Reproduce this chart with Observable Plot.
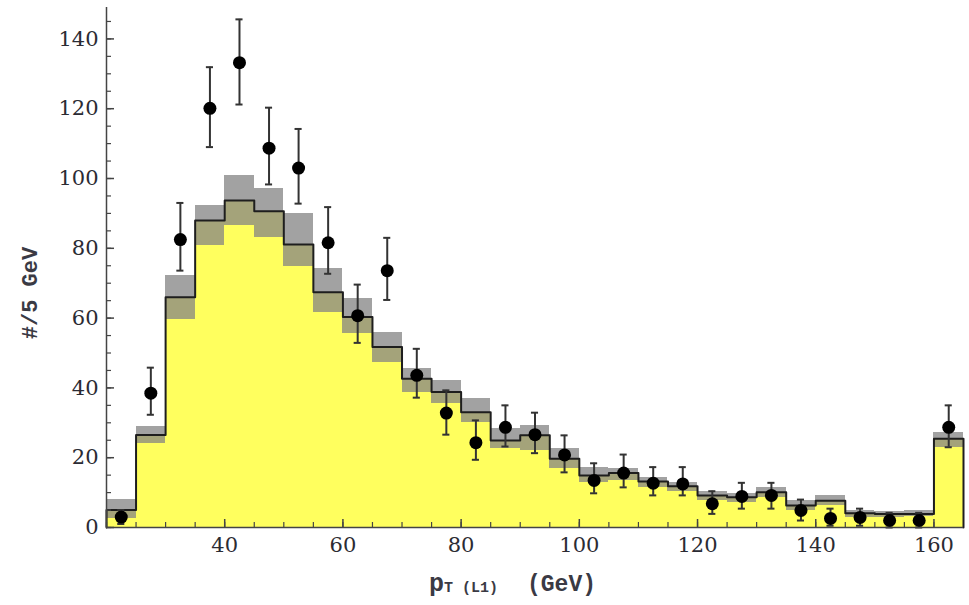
<!DOCTYPE html>
<html>
<head>
<meta charset="utf-8">
<script src="https://cdn.jsdelivr.net/npm/d3@7"></script>
<script src="https://cdn.jsdelivr.net/npm/@observablehq/plot@0.6"></script>
<style>
  html, body { margin: 0; padding: 0; background: #fff; }
  #chart svg { display: block; }
</style>
</head>
<body>
<div id="chart"></div>
<script>
// Bin starts (GeV), bin width 5
const binStart = [20,25,30,35,40,45,50,55,60,65,70,75,80,85,90,95,100,105,110,115,120,125,130,135,140,145,150,155,160];
const binWidth = 5;
// Prediction: central value, upper and lower uncertainty band
const central = [5, 26.5, 66, 88, 93.7, 90.6, 81.1, 67.4, 60.3, 51.7, 42.6, 38.8, 33, 24.9, 26.4, 19.7, 14.9, 15.6, 13.2, 11.8, 9.2, 8.7, 10.1, 6.3, 7.7, 4.1, 3.9, 3.9, 25.4];
const upper   = [8, 29, 72.2, 92.3, 100.9, 97, 89.9, 74.3, 65.5, 56, 45.5, 42.1, 36.9, 28.3, 29.2, 22.5, 17.3, 17, 14.4, 13, 10.4, 9.6, 11.4, 7.7, 9.2, 4.9, 4.6, 4.9, 27.3];
const lower   = [2.5, 24, 59.5, 80.8, 86.5, 83.2, 74.9, 61.7, 55.7, 47.4, 38.8, 35.4, 30.2, 22.5, 22.1, 16.8, 13, 13.5, 11.6, 10.4, 7.7, 7.3, 8.7, 4.9, 6.3, 3, 3, 3.2, 23];
// Data points with error bars
const dataVal = [3, 38.5, 82.5, 120.1, 133.2, 108.7, 103, 81.6, 60.7, 73.6, 43.6, 32.8, 24.3, 28.7, 26.6, 20.8, 13.5, 15.6, 12.7, 12.5, 6.8, 8.9, 9.2, 4.9, 2.6, 2.9, 2, 2, 28.7];
const dataHi  = [5, 45.8, 93, 131.9, 145.6, 120.3, 114.2, 91.8, 69.6, 83, 51.2, 39.3, 30.7, 35, 32.9, 26.4, 18.4, 20.9, 17.3, 17.3, 10.4, 12.8, 12.8, 8, 5.4, 5.4, 4.2, 4.2, 35];
const dataLo  = [1, 32.3, 73.6, 109, 121.2, 98.3, 92.8, 72.7, 52.9, 65.2, 37.2, 26.6, 19.4, 23.2, 21.3, 15.8, 9.8, 11.5, 9.2, 9.2, 3.9, 5.4, 5.4, 2, 0.5, 0.5, 0, 0, 23];
// Axis ticks
const xMinorTicks = [20,25,30,35,40,45,50,55,60,65,70,75,80,85,90,95,100,105,110,115,120,125,130,135,140,145,150,155,160];
const xMajorTicks = [40, 60, 80, 100, 120, 140, 160];
const yMinorTicks = [0,5,10,15,20,25,30,35,40,45,50,55,60,65,70,75,80,85,90,95,100,105,110,115,120,125,130,135,140,145];
const yMajorTicks = [0, 20, 40, 60, 80, 100, 120, 140];

const bins = binStart.map((x, i) => ({
  x1: x, x2: x + binWidth, xc: x + binWidth / 2,
  c: central[i], u: upper[i], l: lower[i],
  d: dataVal[i], hi: dataHi[i], lo: dataLo[i]
}));

// Outline of the central histogram as a step line
const lastX = binStart[binStart.length - 1] + binWidth;
const stepPts = [{x: binStart[0], y: 0}]
  .concat(bins.map(b => ({x: b.x1, y: b.c})))
  .concat([{x: lastX, y: central[central.length - 1]}, {x: lastX, y: 0}]);

const capHalf = 0.6;
const axisColor = "#444";
const serif = "'DejaVu Serif', 'Liberation Serif', serif";

const plot = Plot.plot({
  width: 969,
  height: 605,
  marginLeft: 106,
  marginRight: 6,
  marginTop: 7,
  marginBottom: 78,
  x: {domain: [20, 165]},
  y: {domain: [0, 149]},
  style: {fontFamily: serif, background: "#fff"},
  marks: [
    // yellow body up to the central value
    Plot.rectY(bins, {x1: "x1", x2: "x2", y1: 0, y2: "c", fill: "#ffff5e", shapeRendering: "crispEdges"}),
    // band above central (gray) and below central (olive)
    Plot.rectY(bins, {x1: "x1", x2: "x2", y1: "c", y2: "u", fill: "#a2a2a2", shapeRendering: "crispEdges"}),
    Plot.rectY(bins, {x1: "x1", x2: "x2", y1: "l", y2: "c", fill: "#a4a37a", shapeRendering: "crispEdges"}),
    // central step outline
    Plot.line(stepPts, {x: "x", y: "y", curve: "step-after", stroke: "#1e1e1e", strokeWidth: 2}),
    // error bars
    Plot.ruleX(bins, {x: "xc", y1: "lo", y2: "hi", stroke: "#333", strokeWidth: 2}),
    Plot.ruleY(bins, {y: "hi", x1: d => d.xc - capHalf, x2: d => d.xc + capHalf, stroke: "#333", strokeWidth: 2}),
    Plot.ruleY(bins, {y: "lo", x1: d => d.xc - capHalf, x2: d => d.xc + capHalf, stroke: "#333", strokeWidth: 2}),
    Plot.dot(bins, {x: "xc", y: "d", r: 6.5, fill: "#000", stroke: "none"}),
    // axes
    Plot.ruleX([20], {y1: 0, y2: 149, stroke: axisColor, strokeWidth: 1.5}),
    Plot.ruleY([0], {x1: 20, x2: 165, stroke: axisColor, strokeWidth: 1.5}),
    Plot.axisY({ticks: yMinorTicks, tickSize: -5, fill: "none", stroke: axisColor, strokeWidth: 1.2}),
    Plot.axisY({ticks: yMajorTicks, tickSize: -8, tickPadding: 16, stroke: axisColor, strokeWidth: 1.5,
      fill: "#2b2b33", fontSize: 21, tickFormat: d => String(d), label: null}),
    Plot.axisX({ticks: xMinorTicks, tickSize: -5, fill: "none", stroke: axisColor, strokeWidth: 1.2}),
    Plot.axisX({ticks: xMajorTicks, tickSize: -8, tickPadding: 18, stroke: axisColor, strokeWidth: 1.5,
      fill: "#2b2b33", fontSize: 21, tickFormat: d => String(d), label: null})
  ]
});

document.getElementById("chart").appendChild(plot);

// Axis titles
const svg = d3.select(plot);
const mono = "'Liberation Mono', 'DejaVu Sans Mono', monospace";
svg.append("text")
  .attr("transform", "translate(37,293) rotate(-90)")
  .attr("text-anchor", "middle")
  .attr("font-family", mono)
  .attr("font-size", 22)
  .attr("font-weight", "bold")
  .attr("fill", "#3a3a44")
  .text("#/5 GeV");

const xl = svg.append("text")
  .attr("x", 429)
  .attr("y", 591)
  .attr("text-anchor", "start")
  .attr("font-family", mono)
  .attr("font-weight", "bold")
  .attr("fill", "#3a3a44");
xl.append("tspan").attr("font-size", 25).text("p");
xl.append("tspan").attr("font-size", 15).attr("dy", 1).text("T (L1)");
xl.append("tspan").attr("x", 527).attr("dy", -1).attr("font-size", 23).text("(GeV)");
</script>
</body>
</html>
